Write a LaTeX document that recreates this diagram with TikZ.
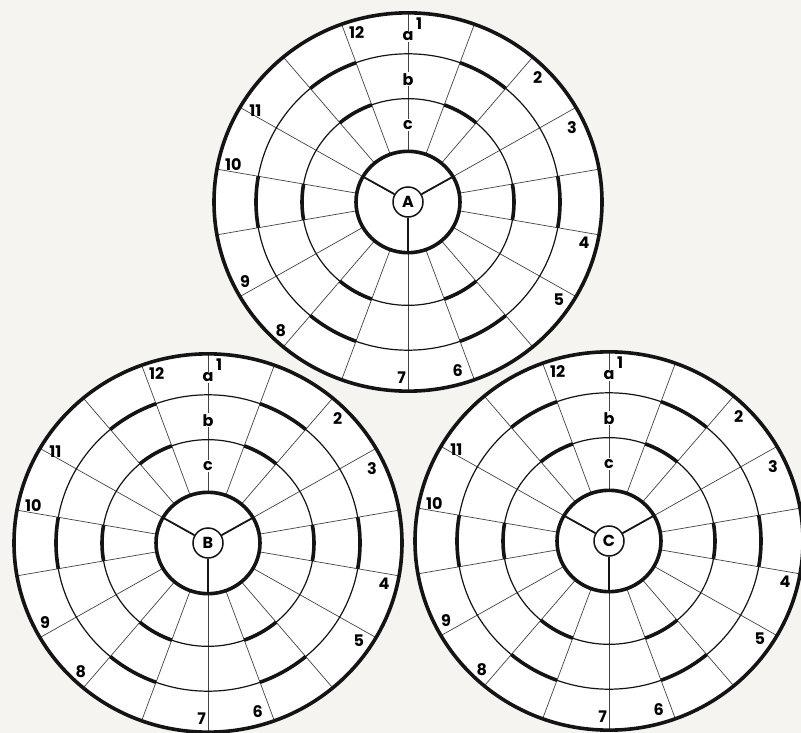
\documentclass[tikz,border=0pt]{standalone}
\usepackage{fontspec}
\setmainfont{Poppins}
\usetikzlibrary{positioning}
\definecolor{paperBg}{HTML}{F5F4F0}
\definecolor{inkBlack}{HTML}{141414}

\begin{document}
\begin{tikzpicture}[
    x=1pt, y=1pt,
    font=\fontsize{16}{16}\selectfont\bfseries,
    rim/.style={draw=inkBlack, line width=3.6pt},
    ring/.style={draw=inkBlack, line width=1.2pt},
    band/.style={draw=inkBlack, line width=3.6pt},
    radial/.style={draw=inkBlack!80, line width=0.7pt},
    spoke/.style={draw=inkBlack, line width=1.8pt},
    hub/.style={circle, draw=inkBlack, line width=1.5pt, fill=white, minimum size=30pt, inner sep=0pt},
    ringtag/.style={fill=white, inner sep=1pt},
    tag/.style={inner sep=0pt}
]
\fill[paperBg] (0,0) rectangle (801,-733);
\useasboundingbox (0,0) rectangle (801,-733);

\foreach \cx/\cy/\board in {408/-202/A, 208/-543/B, 609/-541/C}{
  \begin{scope}[shift={(\cx,\cy)}, yscale=0.975]
    \fill[white] (0,0) circle (194);
    \foreach \ang in {10,30,...,350}
      \draw[radial] (\ang:52) -- (\ang:194);
    \draw[ring] (0,0) circle (106);
    \draw[ring] (0,0) circle (152);
    \foreach \ang in {0,60,...,300}{
      \draw[band] ({\ang-10}:106) arc[start angle=\ang-10, end angle=\ang+10, radius=106];
      \draw[band] ({\ang-10}:152) arc[start angle=\ang-10, end angle=\ang+10, radius=152];
    }
    \draw[rim] (0,0) circle (194);
    \draw[rim] (0,0) circle (52);
    \node[hub] (hub\board) at (0,0) {\board};
    \foreach \ang in {30,150,270}{
      \coordinate (core\board\ang) at (\ang:52);
      \draw[spoke] (hub\board.\ang) -- (core\board\ang);
    }
    \node[ringtag] (\board-a) at (90:170) {a};
    \node[ringtag] (\board-b) at (90:126) {b};
    \node[ringtag] (\board-c) at (90:79) {c};
    \foreach \num/\ang/\rad in {1/86.5/183, 12/106.5/181, 2/44.5/182, 3/25/181,
        4/-13.5/181, 5/-33.5/181, 6/-74/180, 7/-92/180, 8/-134/183,
        9/-153.5/182, 10/167.5/179, 11/148.5/179}
      \node[tag] (\board-n\num) at (\ang:\rad) {\num};
  \end{scope}
}
\end{tikzpicture}
\end{document}
